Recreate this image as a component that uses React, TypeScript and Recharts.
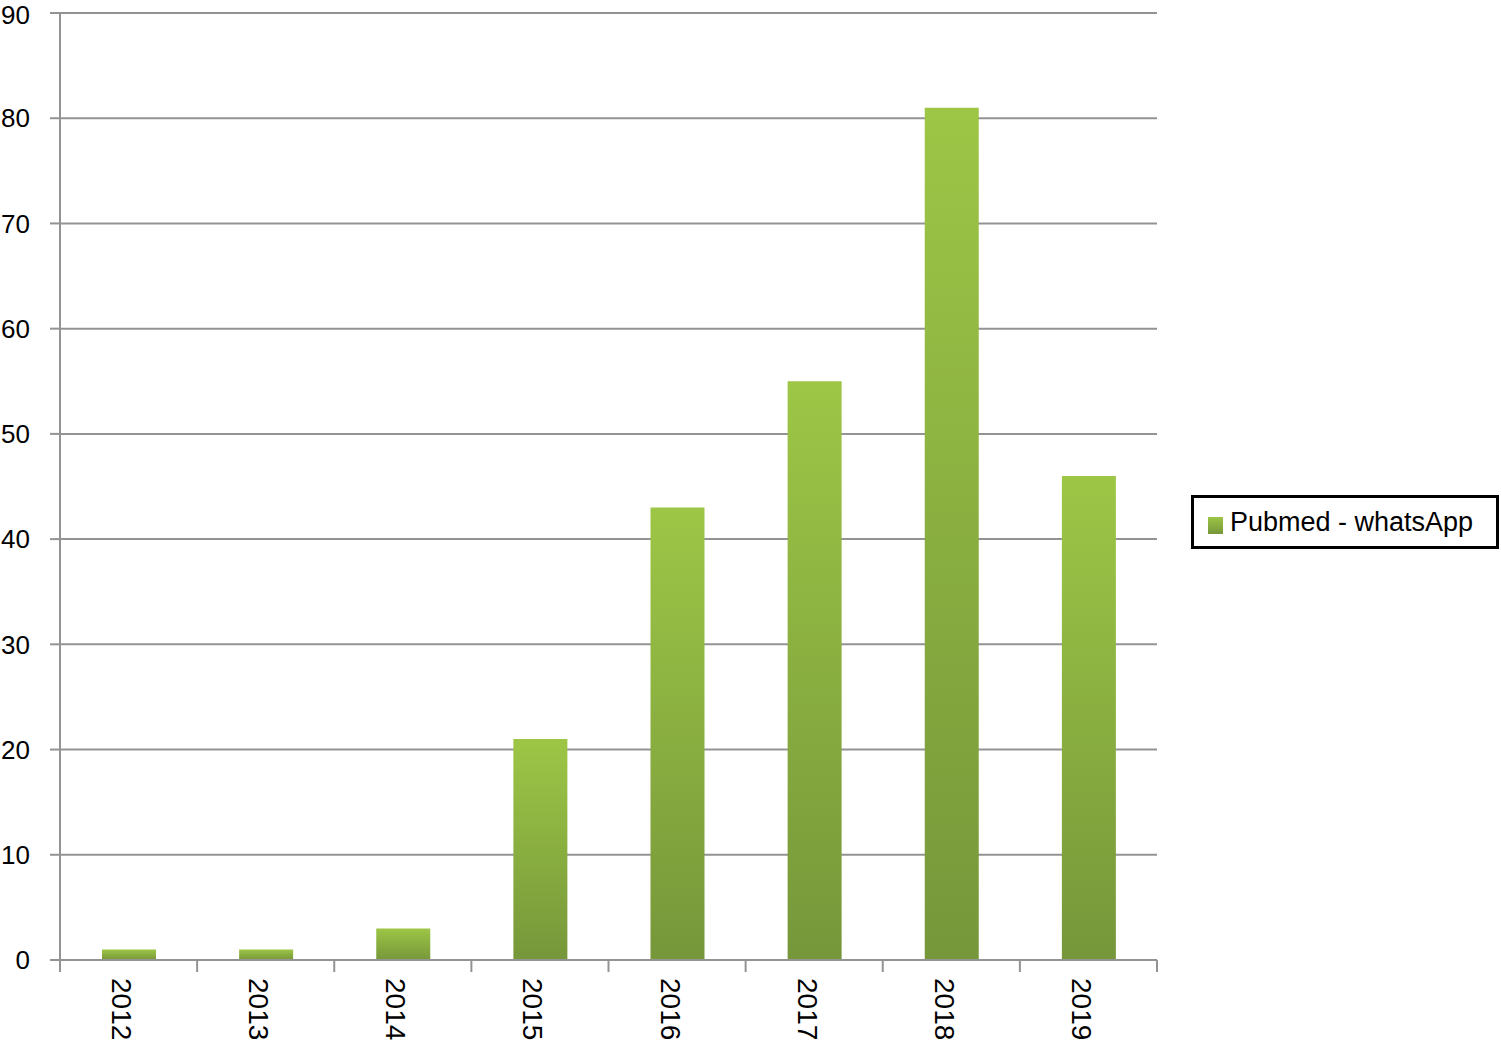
import React from "react"
import { BarChart, Bar, XAxis, YAxis, CartesianGrid } from "recharts"

const years = ["2012", "2013", "2014", "2015", "2016", "2017", "2018", "2019"]
const counts = [1, 1, 3, 21, 43, 55, 81, 46]
const yTicks = [0, 10, 20, 30, 40, 50, 60, 70, 80, 90]
const seriesName = "Pubmed - whatsApp"

const data = years.map((year, i) => ({ year, count: counts[i] }))

const FONT = '"Liberation Sans", Arial, Helvetica, sans-serif'
const GRAY = "#939393"

const CHART_W = 1501
const CHART_H = 1040
const MARGIN = { top: 13, right: 344, bottom: 60, left: 0 }
const X_AXIS_H = 20
const Y_AXIS_W = 60
// width of one category band, used to put the tick marks between the years
const BAND = (CHART_W - MARGIN.left - MARGIN.right - Y_AXIS_W) / years.length

function YearTick({
  x,
  y,
  payload,
  index,
}: {
  x?: number
  y?: number
  payload?: { value: string }
  index?: number
}) {
  const cx = x ?? 0
  const cy = y ?? 0
  const tx = cx - 7
  const ty = cy + 18
  const isLast = index === years.length - 1
  return (
    <g>
      <line x1={cx - BAND / 2} y1={cy} x2={cx - BAND / 2} y2={cy + 12} stroke={GRAY} strokeWidth={2} />
      {isLast && (
        <line x1={cx + BAND / 2} y1={cy} x2={cx + BAND / 2} y2={cy + 12} stroke={GRAY} strokeWidth={2} />
      )}
      <text
        x={tx}
        y={ty}
        transform={`rotate(90, ${tx}, ${ty})`}
        textAnchor="start"
        dominantBaseline="central"
        fontSize={28}
        fontFamily={FONT}
        fill="#000"
      >
        {payload?.value}
      </text>
    </g>
  )
}

function LegendBox() {
  return (
    <div
      style={{
        position: "absolute",
        left: 1191,
        top: 495,
        boxSizing: "border-box",
        width: 308,
        height: 54,
        border: "3px solid #000",
        background: "#fff",
        display: "flex",
        alignItems: "center",
        paddingLeft: 14,
        fontFamily: FONT,
        fontSize: 27,
        color: "#000",
      }}
    >
      <span
        style={{
          display: "inline-block",
          width: 15,
          height: 17,
          marginRight: 7,
          marginTop: 6,
          background: "linear-gradient(#9cc545, #76963a)",
        }}
      />
      <span>{seriesName}</span>
    </div>
  )
}

export default function App() {
  return (
    <div style={{ position: "absolute", left: 0, top: 0, width: CHART_W, height: CHART_H, background: "#fff" }}>
      <BarChart width={CHART_W} height={CHART_H} data={data} margin={MARGIN}>
        <defs>
          <linearGradient id="barFill" x1="0" y1="0" x2="0" y2="1">
            <stop offset="0%" stopColor="#9dc646" />
            <stop offset="100%" stopColor="#76973a" />
          </linearGradient>
        </defs>
        <CartesianGrid vertical={false} stroke={GRAY} strokeWidth={2} />
        <YAxis
          domain={[0, 90]}
          ticks={yTicks}
          width={Y_AXIS_W}
          tickSize={10}
          tickMargin={20}
          axisLine={{ stroke: GRAY, strokeWidth: 2 }}
          tickLine={{ stroke: GRAY, strokeWidth: 2 }}
          tick={{ fill: "#000", fontSize: 26, fontFamily: FONT }}
        />
        <XAxis
          dataKey="year"
          height={X_AXIS_H}
          tickSize={0}
          tickMargin={0}
          axisLine={{ stroke: GRAY, strokeWidth: 2 }}
          tickLine={false}
          tick={<YearTick />}
          interval={0}
        />
        <Bar
          dataKey="count"
          name={seriesName}
          fill="url(#barFill)"
          barSize={54}
          isAnimationActive={false}
        />
      </BarChart>
      <LegendBox />
    </div>
  )
}
